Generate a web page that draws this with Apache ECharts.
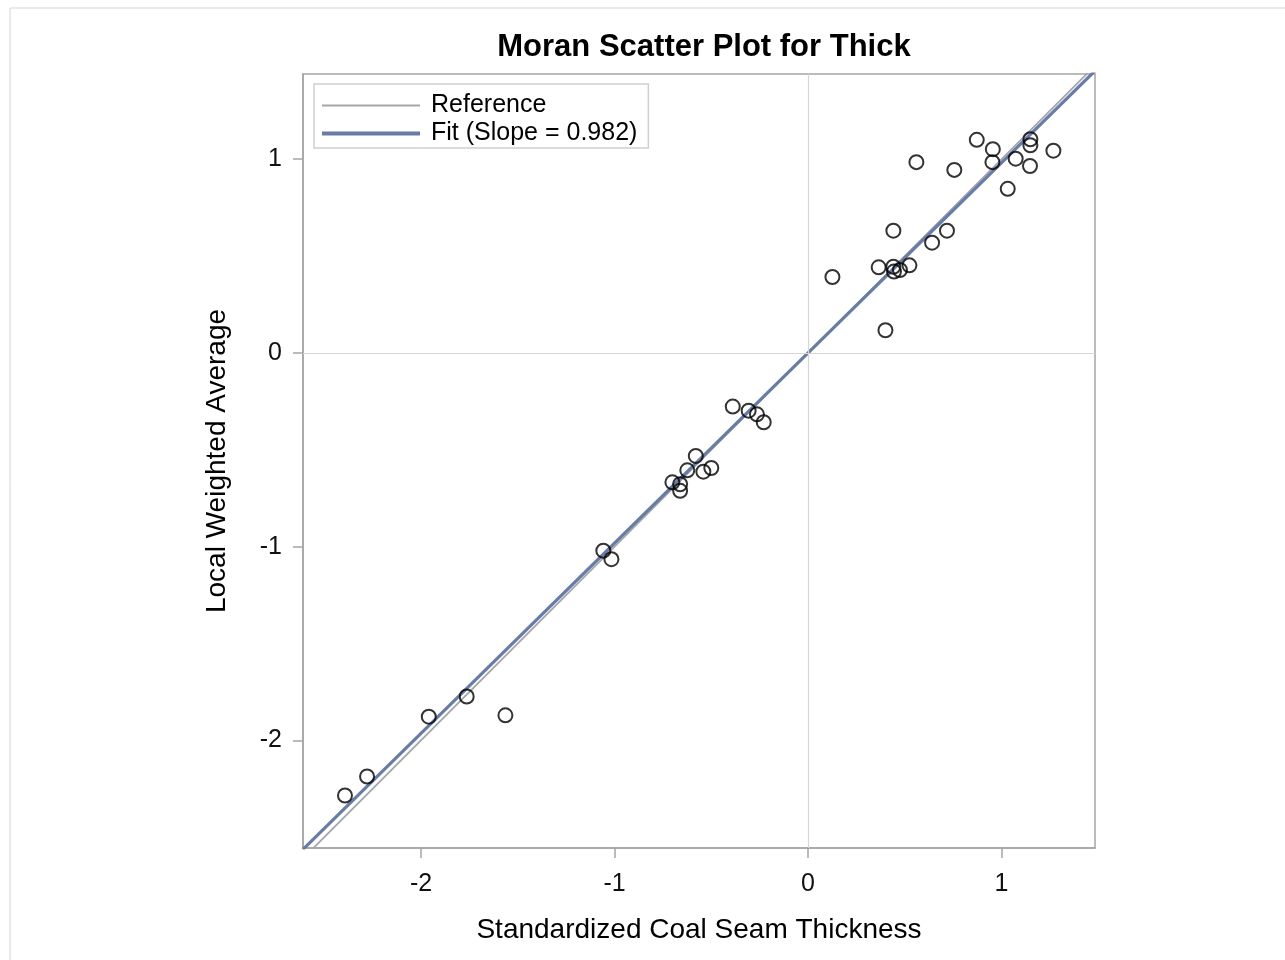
<!DOCTYPE html>
<html>
<head>
	<meta charset="utf-8" />
	<title>Moran Scatter Plot for Thick</title>
	<script src="https://cdn.jsdelivr.net/npm/echarts@6/dist/echarts.min.js"></script>
	<style>
		* { margin: 0; padding: 0; }
		html, body { width: 100%; height: 100%; background: #fff; }
		#main { width: 1285px; height: 960px; }
	</style>
</head>
<body>
	<div id="main"></div>
	<script>
		// values
		var thickX = [0.872, 0.955, 0.953, 1.149, 1.149, 1.073, 1.147, 1.268, 1.032, 0.560, 0.756,
			0.441, 0.718, 0.641, 0.365, 0.441, 0.444, 0.475, 0.524, 0.126, 0.400,
			-0.389, -0.307, -0.264, -0.229, -0.580, -0.624, -0.541, -0.500, -0.701, -0.661, -0.661,
			-1.058, -1.016, -1.764, -1.960, -1.564, -2.279, -2.393];
		var lagY = [1.100, 1.052, 0.985, 1.103, 1.072, 1.003, 0.965, 1.044, 0.847, 0.985, 0.945,
			0.631, 0.631, 0.569, 0.442, 0.445, 0.420, 0.428, 0.452, 0.392, 0.117,
			-0.277, -0.298, -0.317, -0.358, -0.532, -0.606, -0.613, -0.594, -0.668, -0.678, -0.712,
			-1.021, -1.065, -1.774, -1.878, -1.871, -2.187, -2.285];
		var tickValues = [-2, -1, 0, 1];
		var xRange = [-2.61, 1.483];
		var yRange = [-2.556, 1.44];
		var fitSlope = 0.982;

		var points = [];
		for (var i = 0; i < thickX.length; i++) {
			points.push([thickX[i], lagY[i]]);
		}
		var refLine = [[xRange[0], xRange[0]], [xRange[1], xRange[1]]];
		var fitLine = [[xRange[0], fitSlope * xRange[0]], [xRange[1], fitSlope * xRange[1]]];

		var font = 'Liberation Sans, Arial, sans-serif';
		var labelFont = { fontFamily: font, fontSize: 25, color: '#111' };
		var nameFont = { fontFamily: font, fontSize: 28, color: '#000' };
		var refColor = '#a3a6aa';
		var fitColor = '#687ca6';

		var myChart = echarts.init(document.getElementById('main'));
		var option = {
			animation: false,
			title: {
				text: 'Moran Scatter Plot for Thick',
				left: 699,
				textAlign: 'center',
				top: 27,
				textStyle: { fontFamily: font, fontSize: 31, fontWeight: 'bold', color: '#000' }
			},
			graphic: [{
				type: 'rect',
				shape: { x: 10, y: 8, width: 1400, height: 1100 },
				style: { fill: 'none', stroke: '#d4d4d4', lineWidth: 1 },
				silent: true
			}],
			legend: {
				orient: 'vertical',
				left: 314,
				top: 84,
				padding: [9, 11, 2, 6],
				itemGap: 3,
				itemWidth: 98,
				itemHeight: 25,
				borderColor: '#d0d0d0',
				borderWidth: 1.5,
				itemStyle: { color: 'rgba(0,0,0,0)', borderColor: 'rgba(0,0,0,0)', borderWidth: 0 },
				textStyle: { fontFamily: font, fontSize: 25, lineHeight: 25, color: '#000', padding: [0, 0, 0, 6] },
				data: [
					{ name: 'Reference', lineStyle: { color: refColor, width: 2 } },
					{ name: 'Fit (Slope = 0.982)', lineStyle: { color: fitColor, width: 4 } }
				]
			},
			grid: {
				left: 303,
				right: 190,
				top: 74,
				bottom: 112,
				show: true,
				borderColor: '#a5a5a5',
				borderWidth: 1.5
			},
			xAxis: {
				type: 'value',
				min: xRange[0],
				max: xRange[1],
				name: 'Standardized Coal Seam Thickness',
				nameLocation: 'middle',
				nameGap: 68,
				nameTextStyle: nameFont,
				axisLine: { show: true, onZero: false, lineStyle: { color: '#a5a5a5', width: 1.5 } },
				axisTick: { show: true, length: 10, customValues: tickValues, lineStyle: { color: '#a5a5a5', width: 1.5 } },
				axisLabel: Object.assign({ customValues: tickValues, margin: 24 }, labelFont),
				splitLine: { show: false }
			},
			yAxis: {
				type: 'value',
				min: yRange[0],
				max: yRange[1],
				name: 'Local Weighted Average',
				nameLocation: 'middle',
				nameGap: 72,
				nameTextStyle: nameFont,
				axisLine: { show: true, onZero: false, lineStyle: { color: '#a5a5a5', width: 1.5 } },
				axisTick: { show: true, length: 10, customValues: tickValues, lineStyle: { color: '#a5a5a5', width: 1.5 } },
				axisLabel: Object.assign({ customValues: tickValues, margin: 21 }, labelFont),
				splitLine: { show: false }
			},
			series: [
				{
					name: 'Reference',
					type: 'line',
					data: refLine,
					symbol: 'none',
					color: refColor,
					lineStyle: { color: refColor, width: 1.8 },
					markLine: {
						silent: true,
						symbol: 'none',
						label: { show: false },
						lineStyle: { color: '#d6d6d6', width: 1.2, type: 'solid' },
						data: [{ xAxis: 0 }, { yAxis: 0 }]
					},
					z: 2
				},
				{
					name: 'Fit (Slope = 0.982)',
					type: 'line',
					data: fitLine,
					symbol: 'none',
					color: fitColor,
					lineStyle: { color: fitColor, width: 3.2 },
					z: 3
				},
				{
					name: 'Moran',
					type: 'scatter',
					data: points,
					symbol: 'circle',
					symbolSize: 14,
					itemStyle: { color: 'rgba(0,0,0,0)', borderColor: '#000', borderWidth: 2 },
					z: 4
				}
			]
		};
		myChart.setOption(option);
	</script>
</body>
</html>
